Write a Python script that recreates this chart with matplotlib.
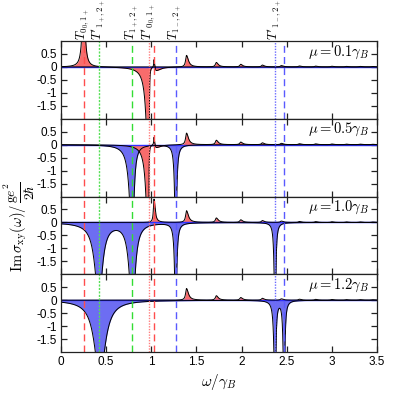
import numpy as np
import matplotlib
matplotlib.use("Agg")
import matplotlib.pyplot as plt

plt.rcParams['mathtext.fontset'] = 'cm'
plt.rcParams['font.family'] = ['Liberation Sans', 'DejaVu Sans']
plt.rcParams['axes.unicode_minus'] = False

# ---------------- data ----------------
mu_labels = ['0.1', '0.5', '1.0', '1.2']

# ladder of small red peaks, common to all panels
ladder_pos = [1.39, 1.72, 1.99, 2.23, 2.44, 2.64, 2.82, 3.00, 3.16, 3.31, 3.45]
ladder_amp = [0.45, 0.17, 0.10, 0.07, 0.05, 0.035, 0.03, 0.025, 0.02, 0.02, 0.015]

# panel-specific red peaks: (position, amplitude, left width, right width)
red_pos = [[0.25, 0.975, 1.03, 1.05],
           [0.97, 1.03, 1.05],
           [1.03],
           []]
red_amp = [[3.0, -5.5, 0.30, -0.15],
           [-4.6, 0.30, -0.12],
           [0.90],
           []]
red_wl = [[0.017, 0.026, 0.004, 0.004],
          [0.026, 0.004, 0.004],
          [0.008],
          []]
red_wr = [[0.017, 0.003, 0.006, 0.06],
          [0.003, 0.006, 0.06],
          [0.015],
          []]

# panel-specific blue dips
blue_pos = [[],
            [0.79, 1.27],
            [0.42, 0.79, 1.27, 2.37],
            [0.43, 2.37, 2.47]]
blue_amp = [[],
            [-4.0, -4.0],
            [-3.0, -3.5, -4.0, -4.0],
            [-3.0, -4.0, -4.0]]
blue_wl = [[],
           [0.033, 0.012],
           [0.052, 0.038, 0.012, 0.010],
           [0.070, 0.012, 0.010]]
blue_wr = [[],
           [0.020, 0.012],
           [0.045, 0.035, 0.012, 0.010],
           [0.070, 0.010, 0.010]]

# transition markers
vline_pos = [0.25, 0.42, 0.79, 0.975, 1.03, 1.27, 2.37, 2.465]
vline_col = ['#ff4d4d', '#55e055', '#33dd33', '#ff7f7f', '#ff4d4d', '#5a5aff', '#6a6aff', '#5a5aff']
vline_ls = [(0, (5, 3)), (0, (1.5, 1)), (0, (5, 3)), (0, (1, 1)), (0, (5, 3)), (0, (5, 3)), (0, (1, 1)), (0, (5, 3))]

label_pos = [0.25, 0.42, 0.79, 0.975, 1.27, 2.37]
label_txt = [r'$T_{0_0,1_+}$', r"$T'_{1_+,2_+}$", r'$T_{1_+,2_+}$',
             r"$T'_{0_0,1_+}$", r'$T_{1_-,2_+}$', r"$T'_{1_-,2_+}$"]

x_ticks = [0, 0.5, 1, 1.5, 2, 2.5, 3, 3.5]
x_ticklabels = ['0', '0.5', '1', '1.5', '2', '2.5', '3', '3.5']
y_ticks = [-1.5, -1, -0.5, 0, 0.5]
y_ticklabels = ['-1.5', '-1', '-0.5', '0', '0.5']

ylabel_main = r'$\mathrm{Im}\,\sigma_{\mathrm{xy}}(\omega)/$'
ylabel_frac = r'$\frac{\mathrm{g}e^2}{2\hbar}$'

# ---------------- drawing ----------------
w = np.linspace(0, 3.5, 4000)


def peaks(pos, amp, wl, wr):
    out = np.zeros_like(w)
    for p, a, l, r in zip(pos, amp, wl, wr):
        g = np.where(w < p, l, r)
        out += a * g**2 / ((w - p)**2 + g**2)
    return out


fig = plt.figure(figsize=(4.16, 3.95), dpi=100)
L, R, T, B = 61/416, 377/416, 1 - 41/395, 1 - 352/395
h = (T - B) / 4

RED = '#f86c6c'
BLUE = '#6d6df2'

for i in range(4):
    ax = fig.add_axes([L, T - (i + 1) * h, R - L, h])
    red = peaks(red_pos[i], red_amp[i], red_wl[i], red_wr[i]) + \
        peaks(ladder_pos, ladder_amp, [0.012] * len(ladder_pos), [0.025] * len(ladder_pos))
    blue = peaks(blue_pos[i], blue_amp[i], blue_wl[i], blue_wr[i])
    ax.fill_between(w, 0, blue, color=BLUE, lw=0, zorder=2)
    ax.fill_between(w, 0, red, color=RED, lw=0, zorder=3)
    ax.axhline(0, color='#3030ff', lw=1.0, zorder=4)
    ax.plot(w, blue, color='black', lw=0.7, zorder=5)
    ax.plot(w, red, color='black', lw=0.7, zorder=5)
    for xp, c, ls in zip(vline_pos, vline_col, vline_ls):
        ax.axvline(xp, color=c, ls=ls, lw=1.0, zorder=6)
    ax.set_xlim(0, 3.5)
    ax.set_ylim(-2, 1)
    ax.set_xticks(x_ticks)
    ax.set_yticks(y_ticks)
    ax.set_yticklabels(y_ticklabels)
    if i == 3:
        ax.set_xticklabels(x_ticklabels)
    else:
        ax.set_xticklabels([])
    ax.tick_params(direction='in', top=True, right=True, length=4, width=0.9,
                   labelsize=8.5, pad=3, color='#222222')
    for s in ax.spines.values():
        s.set_linewidth(0.9)
        s.set_color('#222222')
        s.set_zorder(10)
    ax.text(0.975, 0.86, r'$\mu = %s\gamma_B$' % mu_labels[i], transform=ax.transAxes,
            ha='right', va='center', fontsize=10.5, zorder=12)
    if i == 0:
        for xp, t in zip(label_pos, label_txt):
            ax.text(xp, 1.015, t, transform=ax.get_xaxis_transform(), rotation=90,
                    ha='center', va='bottom', fontsize=9)
    if i == 3:
        ax.set_xlabel(r'$\omega/\gamma_B$', fontsize=11, labelpad=3)

# y label: main part plus a full-size fraction stacked above it (rotated)
renderer = fig.canvas.get_renderer()
y_bottom_px = 395 - 272
t1 = fig.text(19/416, y_bottom_px/395, ylabel_main, rotation=90,
              ha='center', va='bottom', fontsize=10.5)
bb = t1.get_window_extent(renderer)
fig.text(19/416, (bb.y1 + 1)/395, ylabel_frac, rotation=90,
         ha='center', va='bottom', fontsize=14)

fig.savefig('out.png', dpi=100)
